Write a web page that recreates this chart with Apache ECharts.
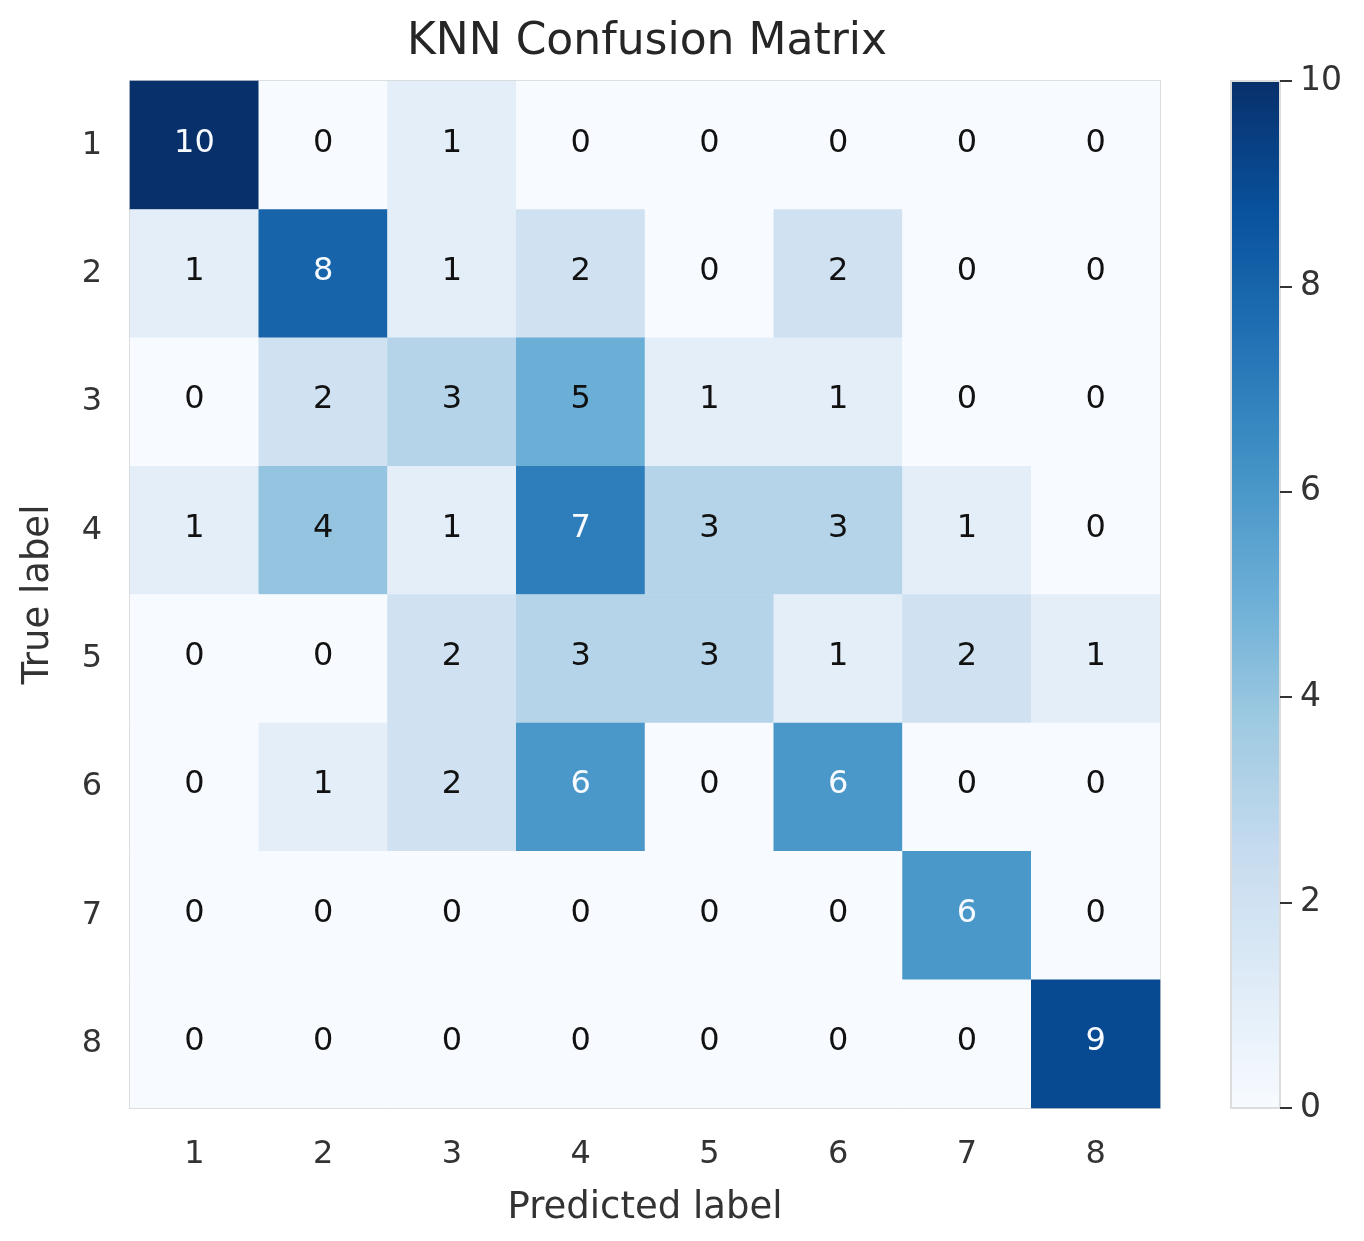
<!DOCTYPE html>
<html>
<head>
<meta charset="utf-8">
<script src="https://cdn.jsdelivr.net/npm/echarts@6/dist/echarts.min.js"></script>
<style>
    html, body { margin: 0; padding: 0; background: #fff; }
    #chart { width: 1364px; height: 1241px; }
</style>
</head>
<body>
<div id="chart"></div>
<script>
// labels for both axes
const classLabels = ['1', '2', '3', '4', '5', '6', '7', '8'];
// confusion matrix, rows = true label, cols = predicted label
const matrixRows = [
    [10, 0, 1, 0, 0, 0, 0, 0],
    [1, 8, 1, 2, 0, 2, 0, 0],
    [0, 2, 3, 5, 1, 1, 0, 0],
    [1, 4, 1, 7, 3, 3, 1, 0],
    [0, 0, 2, 3, 3, 1, 2, 1],
    [0, 1, 2, 6, 0, 6, 0, 0],
    [0, 0, 0, 0, 0, 0, 6, 0],
    [0, 0, 0, 0, 0, 0, 0, 9]
];
const colorbarTicks = [0, 2, 4, 6, 8, 10];
// matplotlib Blues
const blues = ['#f7fbff', '#deebf7', '#c6dbef', '#9ecae1', '#6baed6', '#4292c6', '#2171b5', '#08519c', '#08306b'];

const cells = [];
matrixRows.forEach((row, r) => {
    row.forEach((v, c) => {
        cells.push({
            value: [c, r, v],
            label: { color: v > 5 ? '#f7fbff' : '#111' }   // white text on dark cells
        });
    });
});

const font = 'DejaVu Sans';
const chart = echarts.init(document.getElementById('chart'));
chart.setOption({
    backgroundColor: '#fff',
    animation: false,
    title: {
        text: 'KNN Confusion Matrix',
        left: 642,
        textAlign: 'center',
        top: 16,
        textStyle: { fontFamily: font, fontSize: 44, fontWeight: 'normal', color: '#262626' }
    },
    grid: [
        { left: 130, top: 81, width: 1030, height: 1027, show: true, borderColor: '#d4d4d4', borderWidth: 2, backgroundColor: 'transparent' },
        // colorbar frame + ticks
        { left: 1231, top: 81, width: 49, height: 1027, show: true, borderColor: '#dcdcdc', borderWidth: 2, backgroundColor: 'transparent', z: 10 }
    ],
    xAxis: [
        {
            type: 'category',
            data: classLabels,
            gridIndex: 0,
            position: 'bottom',
            axisLine: { show: false },
            axisTick: { show: false },
            splitLine: { show: false },
            axisLabel: { fontFamily: font, fontSize: 32, color: '#333', margin: 31 },
            name: 'Predicted label',
            nameLocation: 'middle',
            nameGap: 82,
            nameTextStyle: { fontFamily: font, fontSize: 37, color: '#333' }
        },
        {
            type: 'value',
            gridIndex: 1,
            min: 0,
            max: 1,
            show: false
        }
    ],
    yAxis: [
        {
            type: 'category',
            data: classLabels,
            inverse: true,
            gridIndex: 0,
            axisLine: { show: false },
            axisTick: { show: false },
            splitLine: { show: false },
            axisLabel: { fontFamily: font, fontSize: 32, color: '#333', margin: 28 },
            name: 'True label',
            nameLocation: 'middle',
            nameGap: 73,
            nameTextStyle: { fontFamily: font, fontSize: 37, color: '#333' }
        },
        {
            type: 'value',
            gridIndex: 1,
            position: 'right',
            min: 0,
            max: 10,
            interval: 2,
            z: 20,
            axisLine: { show: true, onZero: false, lineStyle: { color: '#dcdcdc', width: 2 } },
            axisTick: { show: true, inside: false, length: 12, lineStyle: { color: '#333', width: 2 } },
            splitLine: { show: false },
            axisLabel: { fontFamily: font, fontSize: 33, color: '#333', margin: 20,
                formatter: v => colorbarTicks.includes(v) ? String(v) : '' }
        }
    ],
    visualMap: {
        type: 'continuous',
        min: 0,
        max: 10,
        seriesIndex: 0,
        calculable: false,
        hoverLink: false,
        orient: 'vertical',
        left: 1231,
        top: 81,
        padding: 0,
        itemWidth: 49,
        itemHeight: 1027,
        text: null,
        inRange: { color: blues }
    },
    series: [
        {
            type: 'heatmap',
            xAxisIndex: 0,
            yAxisIndex: 0,
            data: cells,
            label: {
                show: true,
                fontFamily: font,
                fontSize: 32,
                offset: [0, -2],
                formatter: p => String(p.value[2])
            },
            emphasis: { disabled: true }
        },
        {
            type: 'line',
            xAxisIndex: 1,
            yAxisIndex: 1,
            data: [],
            silent: true
        }
    ]
});
</script>
</body>
</html>
